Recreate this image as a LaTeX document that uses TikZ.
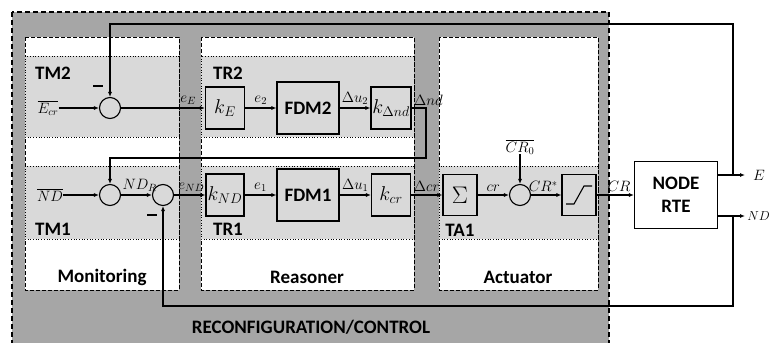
\RequirePackage{fix-cm}
\documentclass[tikz,border=0pt]{standalone}
\usepackage{fontspec}
\setmainfont{Carlito}
\usetikzlibrary{arrows.meta}
\usetikzlibrary{calc}
\definecolor{outergray}{HTML}{A6A6A6}
\definecolor{bandgray}{HTML}{D9D9D9}

\begin{document}
\begin{tikzpicture}[x=1pt, y=-1pt,
		every node/.style={inner sep=0pt},
		sig/.style={font=\fontsize{15}{17}\selectfont},
		ttl/.style={font=\fontsize{19}{22}\selectfont\bfseries},
		blk/.style={draw, line width=1.1pt, fill=bandgray, font=\fontsize{20}{23}\selectfont},
		sumc/.style={circle, draw, line width=1.1pt, fill=bandgray, minimum size=21pt},
		band/.style={draw, dotted, line width=.7pt, fill=bandgray},
		part/.style={draw, line width=1pt, dash pattern=on 4pt off 2pt, fill=white},
		sgn/.style={-{Latex[length=5pt,width=4pt]}, line width=1.1pt},
		wire/.style={line width=1.1pt}]
	\useasboundingbox (0,0) rectangle (772,343);
	% frames
	\draw[fill=outergray, line width=1.4pt, dash pattern=on 5pt off 3pt] (12,12) rectangle (609,360);
	\draw[part] (25,37) rectangle (179,290);
	\draw[part] (201,37) rectangle (414,290);
	\draw[part] (439,37) rectangle (598,290);
	\draw[band] (25,56) rectangle (179,137);
	\draw[band] (25,166) rectangle (179,239);
	\draw[band] (201,56) rectangle (414,137);
	\draw[band] (201,166) rectangle (414,239);
	\draw[band] (439,166) rectangle (598,239);
	\node[ttl] (tm2) at (53,73) {TM2};
	\node[ttl] (tm1) at (53,229) {TM1};
	\node[ttl] (tr2) at (228,73) {TR2};
	\node[ttl] (tr1) at (228,229) {TR1};
	\node[ttl] (ta1) at (460,230) {TA1};
	\node[ttl] (mon) at (102,277) {Monitoring};
	\node[ttl] (rea) at (307,277) {Reasoner};
	\node[ttl] (act) at (518,277) {Actuator};
	\node[ttl] (rc) at (311,327) {RECONFIGURATION/CONTROL};
	% blocks
	\node[sig] (ecr) at (48,108) {$\overline{E_{cr}}$};
	\node[sumc] (s2) at (110,108) {};
	\node[blk, minimum width=39pt, minimum height=42pt] (kE) at (225,108) {$k_E$};
	\node[blk, minimum width=62pt, minimum height=52pt, font=\fontsize{19}{22}\selectfont\bfseries] (fdm2) at (308,108) {FDM2};
	\node[blk, minimum width=40pt, minimum height=42pt] (kdnd) at (391,108) {$k_{\Delta nd}$};
	\node[sig] (ndr) at (50,195) {$\overline{ND}$};
	\node[sumc] (s1a) at (110,195) {};
	\node[sumc] (s1b) at (163,195) {};
	\node[blk, minimum width=38pt, minimum height=42pt] (kND) at (225,195) {$k_{ND}$};
	\node[blk, minimum width=62pt, minimum height=52pt, font=\fontsize{19}{22}\selectfont\bfseries] (fdm1) at (308,195) {FDM1};
	\node[blk, minimum width=39pt, minimum height=42pt] (kcr) at (391,195) {$k_{cr}$};
	\node[blk, minimum width=34pt, minimum height=41pt, font=\fontsize{24}{26}\selectfont] (sigma) at (460,195) {$\Sigma$};
	\node[sumc] (s3) at (520,195) {};
	\node[sig] (cr0) at (520,147) {$\overline{CR_0}$};
	\node[blk, minimum width=34pt, minimum height=41pt] (sat) at (579,195) {};
	\draw[wire] ($(sat)+(-13,9)$) -- ($(sat)+(-5,9)$) -- ($(sat)+(5,-9)$) -- ($(sat)+(13,-9)$);
	\node[draw, line width=1.1pt, fill=white, minimum width=83pt, minimum height=67pt, align=center,
		font=\fontsize{19}{23}\selectfont\bfseries] (rte) at (676,195) {NODE\\RTE};
	\node[sig, anchor=west] (eo) at (753,175) {$E$};
	\node[sig, anchor=east, font=\fontsize{13}{15}\selectfont] (ndo) at (770,216) {$ND$};
	\node (m2) at (98,86) {\rule{10pt}{1.3pt}};
	\node (m1) at (152,215) {\rule{10pt}{1.3pt}};
	\node[shape=coordinate] (eJ) at (733,175) {};
	\node[shape=coordinate] (eTop) at (733,24) {};
	\node[shape=coordinate] (nJ) at (733,216) {};
	\node[shape=coordinate] (nBot) at (733,306) {};
	\node[shape=coordinate] (dBend) at (426,158) {};
	% signals
	\begin{scope}[sig]
		\draw[sgn] (ecr) -- (s2);
		\draw[sgn] (s2) -- node[pos=.8, above=3pt] {$e_E$} (kE);
		\draw[sgn] (kE) -- node[above=3pt] {$e_2$} (fdm2);
		\draw[sgn] (fdm2) -- node[above=3pt] {$\Delta u_2$} (kdnd);
		\draw[sgn] (kdnd.east) -| node[pos=0, above right=2pt] {$\Delta nd$} (dBend) -| (s1a.north);
		\draw[sgn] (ndr) -- (s1a);
		\draw[sgn] (s1a) -- node[pos=.6, above=3pt] {$ND_R$} (s1b);
		\draw[sgn] (s1b) -- node[pos=.55, above=3pt] {$e_{ND}$} (kND);
		\draw[sgn] (kND) -- node[above=3pt] {$e_1$} (fdm1);
		\draw[sgn] (fdm1) -- node[above=3pt] {$\Delta u_1$} (kcr);
		\draw[sgn] (kcr) -- node[above=3pt] {$\Delta cr$} (sigma);
		\draw[sgn] (sigma) -- node[above=3pt] {$cr$} (s3);
		\draw[sgn] (cr0) -- (s3);
		\draw[sgn] (s3) -- node[pos=.4, above=3pt] {$CR^*$} (sat);
		\draw[sgn] (sat) -- node[pos=.6, above=3pt] {$CR$} (rte);
		\draw[sgn] (rte.east |- eo) -- (745,175);
		\draw[sgn] (rte.east |- ndo) -- (745,216);
		\draw[sgn] (eJ) -- (eTop) -| (s2.north);
		\draw[sgn] (nJ) -- (nBot) -| (s1b.south);
	\end{scope}
\end{tikzpicture}
\end{document}
